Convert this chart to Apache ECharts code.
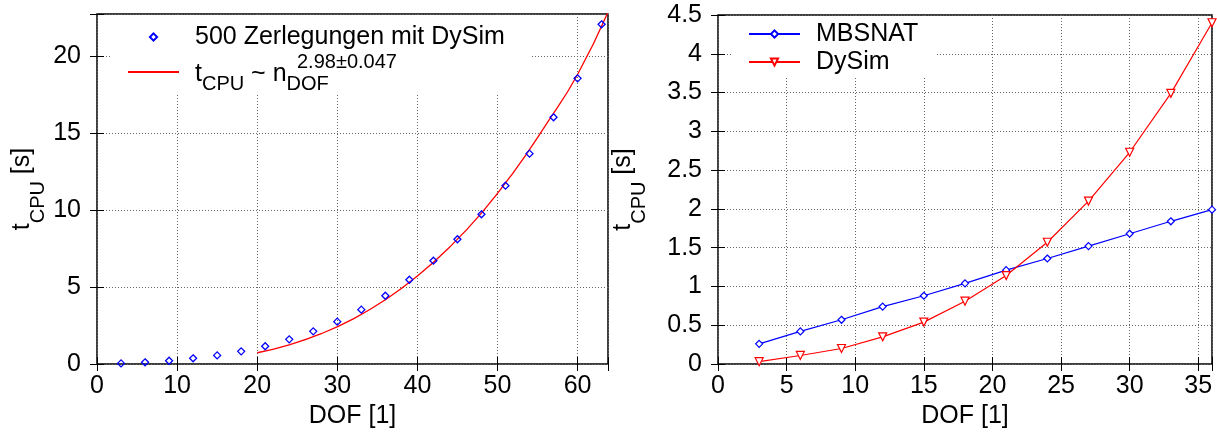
<!DOCTYPE html>
<html>
<head>
<meta charset="utf-8">
<script src="https://cdn.jsdelivr.net/npm/echarts@6/dist/echarts.min.js"></script>
<style>
  html, body { margin: 0; padding: 0; background: #fff; }
  #chart { width: 1217px; height: 443px; }
</style>
</head>
<body>
<div id="chart"></div>
<script>
// left panel: 500 decompositions with DySim + power-law fit
const dofLeft = [3, 6, 9, 12, 15, 18, 21, 24, 27, 30, 33, 36, 39, 42, 45, 48, 51, 54, 57, 60, 63];
const tLeft = [0.04, 0.11, 0.21, 0.37, 0.56, 0.82, 1.15, 1.6, 2.12, 2.75, 3.53, 4.43, 5.47, 6.71, 8.1, 9.72, 11.58, 13.66, 16.02, 18.55, 22.06];
const dofFit = [20, 24, 28, 32, 36, 40, 44, 48, 52, 56, 60, 64];
const tFit = [0.73, 1.25, 1.97, 2.93, 4.17, 5.71, 7.58, 9.8, 12.45, 15.5, 18.8, 23.1];

// right panel: MBSNAT vs DySim
const dofRight = [3, 6, 9, 12, 15, 18, 21, 24, 27, 30, 33, 36];
const tMbsnat = [0.26, 0.42, 0.57, 0.74, 0.88, 1.04, 1.21, 1.36, 1.52, 1.68, 1.84, 1.99];
const tDysim = [0.03, 0.11, 0.2, 0.35, 0.54, 0.81, 1.14, 1.57, 2.1, 2.73, 3.49, 4.4];

// tick labels
const xTicksLeft = [0, 10, 20, 30, 40, 50, 60];
const yTicksLeft = [0, 5, 10, 15, 20];
const xTicksRight = [0, 5, 10, 15, 20, 25, 30, 35];
const yTicksRight = [0, 0.5, 1, 1.5, 2, 2.5, 3, 3.5, 4, 4.5];

const FONT = 'Liberation Sans';
const BLUE = '#0000ff';
const RED = '#ff0000';

function pairs(xs, ys) {
  return xs.map((x, i) => [x, ys[i]]);
}

function axis(kind, gridIndex, max, ticks, mirror, extra) {
  const a = {
    type: 'value',
    gridIndex: gridIndex,
    min: 0,
    max: max,
    interval: ticks[1] - ticks[0],
    position: mirror ? (kind === 'x' ? 'top' : 'right') : (kind === 'x' ? 'bottom' : 'left'),
    axisLine: { show: false },
    axisTick: { show: true, inside: true, length: 7, lineStyle: { color: '#000', width: 1 } },
    axisLabel: {
      show: !mirror,
      margin: kind === 'x' ? 10 : 16,
      color: '#000',
      fontFamily: FONT,
      fontSize: 25,
      formatter: function (v) { return ticks.indexOf(v) >= 0 ? String(v) : ''; }
    },
    splitLine: {
      show: !mirror,
      lineStyle: { color: '#666', type: [1, 2], width: 1 }
    }
  };
  return Object.assign(a, extra || {});
}

const yName = '{m|t}{s|CPU}{m| [s]}';
const yNameStyle = {
  color: '#000',
  fontFamily: FONT,
  rich: {
    m: { fontSize: 25, fontFamily: FONT, lineHeight: 25, verticalAlign: 'top' },
    s: { fontSize: 20, fontFamily: FONT, lineHeight: 20, verticalAlign: 'top', padding: [18.5, 0, 0, 0] }
  }
};
const xNameStyle = { color: '#000', fontFamily: FONT, fontSize: 25 };

const chart = echarts.init(document.getElementById('chart'));

const option = {
  backgroundColor: '#fff',
  animation: false,
  grid: [
    { left: 97, top: 14, width: 511, height: 350, show: true, borderColor: '#000', borderWidth: 1.5, backgroundColor: 'transparent' },
    { left: 718, top: 15, width: 494, height: 349, show: true, borderColor: '#000', borderWidth: 1.5, backgroundColor: 'transparent' }
  ],
  xAxis: [
    axis('x', 0, 63.8, xTicksLeft, false, { name: 'DOF [1]', nameLocation: 'middle', nameGap: 36, nameTextStyle: xNameStyle }),
    axis('x', 0, 63.8, xTicksLeft, true),
    axis('x', 1, 36, xTicksRight, false, { name: 'DOF [1]', nameLocation: 'middle', nameGap: 36, nameTextStyle: xNameStyle }),
    axis('x', 1, 36, xTicksRight, true)
  ],
  yAxis: [
    axis('y', 0, 22.73, yTicksLeft, false, { name: yName, nameLocation: 'middle', nameRotate: 90, nameGap: 62, nameTextStyle: yNameStyle }),
    axis('y', 0, 22.73, yTicksLeft, true),
    axis('y', 1, 4.5, yTicksRight, false, { name: yName, nameLocation: 'middle', nameRotate: 90, nameGap: 82, nameTextStyle: yNameStyle }),
    axis('y', 1, 4.5, yTicksRight, true)
  ],
  legend: [
    {
      orient: 'vertical',
      left: 110,
      top: 16,
      padding: [8.5, 25, 0, 17],
      itemWidth: 51,
      itemHeight: 9,
      itemGap: 3,
      backgroundColor: '#fff',
      data: ['500 Zerlegungen mit DySim', { name: 'fit', itemStyle: { opacity: 0 } }],
      formatter: function (name) {
        if (name === 'fit') {
          return '{p| }{sup|2.98\u00b10.047}\n{gm| }{m|t}{sub|CPU}{m| ~ n}{sub|DOF}';
        }
        return '{g| }' + name;
      },
      textStyle: {
        color: '#000',
        fontFamily: FONT,
        fontSize: 25,
        rich: {
          g: { width: 11, fontSize: 25, fontFamily: FONT },
          p: { width: 113, fontSize: 20, lineHeight: 2, verticalAlign: 'top' },
          sup: { fontSize: 20, fontFamily: FONT, lineHeight: 2, verticalAlign: 'top' },
          gm: { width: 11, fontSize: 25, lineHeight: 37, verticalAlign: 'top', padding: [7, 0, 0, 0] },
          m: { fontSize: 25, fontFamily: FONT, lineHeight: 37, verticalAlign: 'top', padding: [7, 0, 0, 0] },
          sub: { fontSize: 20, fontFamily: FONT, lineHeight: 2, verticalAlign: 'top', padding: [19.5, 0, 0, 0] }
        }
      }
    },
    {
      orient: 'vertical',
      left: 733,
      top: 16,
      padding: [5.5, 17, 3, 15],
      itemWidth: 51,
      itemHeight: 9,
      itemGap: 3,
      backgroundColor: '#fff',
      data: ['MBSNAT', 'DySim'],
      formatter: function (name) { return '{g| }' + name; },
      textStyle: {
        color: '#000',
        fontFamily: FONT,
        fontSize: 25,
        rich: { g: { width: 11, fontSize: 25, fontFamily: FONT } }
      }
    }
  ],
  series: [
    {
      // points only: the connecting line is hidden
      name: '500 Zerlegungen mit DySim',
      type: 'line',
      xAxisIndex: 0,
      yAxisIndex: 0,
      symbol: 'diamond',
      symbolSize: 7,
      showAllSymbol: true,
      lineStyle: { color: BLUE, width: 1, opacity: 0 },
      itemStyle: { color: 'rgba(255,255,255,0)', borderColor: BLUE, borderWidth: 1.3 },
      data: pairs(dofLeft, tLeft)
    },
    {
      name: 'fit',
      type: 'line',
      xAxisIndex: 0,
      yAxisIndex: 0,
      smooth: true,
      symbol: 'none',
      lineStyle: { color: RED, width: 1.3 },
      itemStyle: { color: RED },
      data: pairs(dofFit, tFit)
    },
    {
      name: 'MBSNAT',
      type: 'line',
      xAxisIndex: 2,
      yAxisIndex: 2,
      symbol: 'diamond',
      symbolSize: 7,
      lineStyle: { color: BLUE, width: 1.2 },
      itemStyle: { color: '#fff', borderColor: BLUE, borderWidth: 1.2 },
      data: pairs(dofRight, tMbsnat)
    },
    {
      name: 'DySim',
      type: 'line',
      xAxisIndex: 2,
      yAxisIndex: 2,
      symbol: 'triangle',
      symbolRotate: 180,
      symbolSize: 8,
      lineStyle: { color: RED, width: 1.2 },
      itemStyle: { color: '#fff', borderColor: RED, borderWidth: 1.2 },
      data: pairs(dofRight, tDysim)
    }
  ]
};

chart.setOption(option);
</script>
</body>
</html>
